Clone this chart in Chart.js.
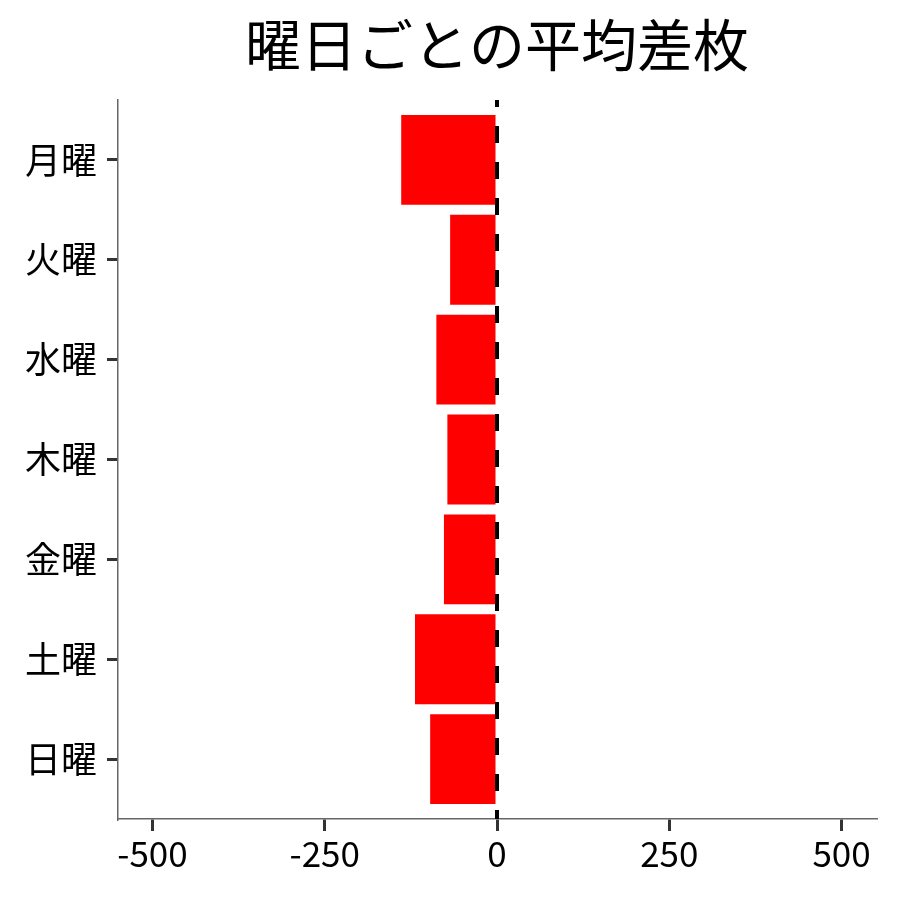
<!DOCTYPE html>
<html>
<head>
<meta charset="utf-8">
<script src="https://cdn.jsdelivr.net/npm/chart.js@4"></script>
<style>
  html, body { margin: 0; padding: 0; background: #fff; }
  #wrap { width: 900px; height: 900px; }
</style>
</head>
<body>
<div id="wrap"><canvas id="dayChart" width="900" height="900"></canvas></div>
<script>
const days = ['月曜', '火曜', '水曜', '木曜', '金曜', '土曜', '日曜'];
const avgDiff = [-139, -68, -88, -72, -77, -119, -97];
const xTicks = [-500, -250, 0, 250, 500];
const titleText = '曜日ごとの平均差枚';

const FONT = "'Noto Sans CJK JP', 'Noto Sans', sans-serif";

// 0 の位置に縦の破線
const zeroLine = {
  id: 'zeroLine',
  afterDatasetsDraw(chart) {
    const { ctx, chartArea, scales } = chart;
    const x = scales.x.getPixelForValue(0);
    ctx.save();
    ctx.strokeStyle = '#000';
    ctx.lineWidth = 4;
    ctx.setLineDash([17, 19]);
    ctx.lineDashOffset = 10;
    ctx.beginPath();
    ctx.moveTo(x, chartArea.top);
    ctx.lineTo(x, chartArea.bottom);
    ctx.stroke();
    ctx.restore();
  }
};

// タイトルはパネル中央に
const panelTitle = {
  id: 'panelTitle',
  afterDraw(chart) {
    const { ctx, chartArea } = chart;
    ctx.save();
    ctx.fillStyle = '#000';
    ctx.font = '56px ' + FONT;
    ctx.textAlign = 'center';
    ctx.textBaseline = 'middle';
    ctx.fillText(titleText, (chartArea.left + chartArea.right) / 2, 45);
    ctx.restore();
  }
};

const ctx = document.getElementById('dayChart').getContext('2d');

new Chart(ctx, {
  type: 'bar',
  data: {
    datasets: [{
      data: avgDiff.map((v, i) => ({ x: v, y: i })),
      backgroundColor: '#ff0000',
      borderWidth: 0,
      barPercentage: 0.9,
      categoryPercentage: 1.0
    }]
  },
  options: {
    indexAxis: 'y',
    responsive: false,
    devicePixelRatio: 1,
    animation: false,
    layout: { padding: { top: 100, right: 24, left: 0, bottom: 0 } },
    plugins: {
      legend: { display: false },
      tooltip: { enabled: false },
      title: { display: false }
    },
    scales: {
      x: {
        type: 'linear',
        min: -550,
        max: 550,
        afterBuildTicks: (s) => { s.ticks = xTicks.map(v => ({ value: v })); },
        afterFit: (s) => { s.height = 81; },
        grid: { drawOnChartArea: false, offset: false, tickLength: 12, tickColor: '#333', lineWidth: 3, tickWidth: 3 },
        border: { display: true, color: '#666', width: 1.5 },
        ticks: { color: '#000', font: { family: FONT, size: 35 }, padding: 2, maxRotation: 0 }
      },
      y: {
        type: 'linear',
        min: -0.6,
        max: 6.6,
        reverse: true,
        offset: false,
        afterBuildTicks: (s) => { s.ticks = days.map((d, i) => ({ value: i })); },
        afterFit: (s) => { s.width = 118; },
        grid: { drawOnChartArea: false, offset: false, tickLength: 11, tickColor: '#333', lineWidth: 3, tickWidth: 3 },
        border: { display: true, color: '#666', width: 1.5 },
        ticks: {
          color: '#000',
          font: { family: FONT, size: 36 },
          padding: 10,
          callback: (v) => days[v]
        }
      }
    }
  },
  plugins: [zeroLine, panelTitle]
});
</script>
</body>
</html>
